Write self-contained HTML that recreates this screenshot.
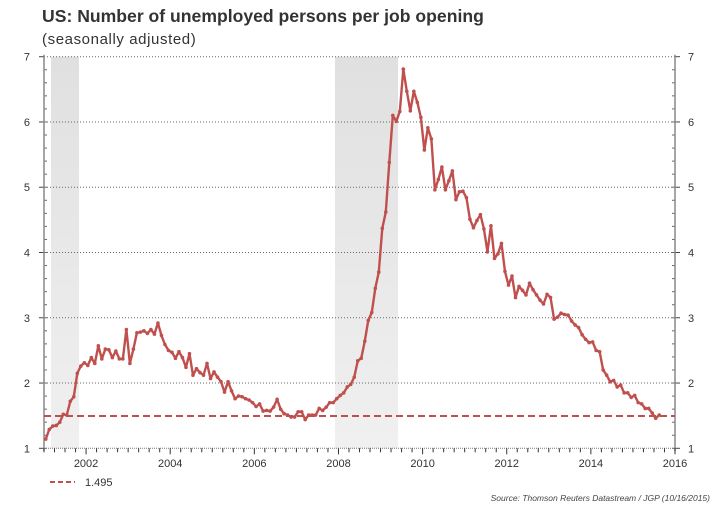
<!DOCTYPE html>
<html><head><meta charset="utf-8"><style>
body{margin:0;background:#fff;width:718px;height:506px;overflow:hidden;font-family:"Liberation Sans",sans-serif}
</style></head><body>
<svg id="chart" width="718" height="506" xmlns="http://www.w3.org/2000/svg">
<defs><linearGradient id="rg" x1="0" y1="0" x2="0" y2="1"><stop offset="0" stop-color="#e0e0e0"/><stop offset="1" stop-color="#f0f0f0"/></linearGradient></defs>
<text x="42" y="22" font-size="17.6" font-weight="bold" fill="#333">US: Number of unemployed persons per job opening</text>
<text x="42" y="44" font-size="15" letter-spacing="0.6" fill="#333">(seasonally adjusted)</text>
<g id="g"></g>
<text x="710" y="501" font-size="8.5" font-style="italic" fill="#444" text-anchor="end">Source: Thomson Reuters Datastream / JGP (10/16/2015)</text>
</svg>
<script>
const startYear = 2001;
const values = [1.14,1.29,1.34,1.35,1.40,1.52,1.51,1.72,1.79,2.15,2.26,2.31,2.27,2.39,2.30,2.57,2.37,2.52,2.51,2.39,2.49,2.37,2.37,2.82,2.30,2.52,2.77,2.78,2.80,2.76,2.82,2.75,2.92,2.73,2.59,2.50,2.47,2.38,2.48,2.39,2.24,2.45,2.12,2.22,2.16,2.12,2.30,2.07,2.17,2.09,2.02,1.86,2.02,1.88,1.76,1.80,1.79,1.76,1.74,1.70,
1.64,1.68,1.57,1.58,1.57,1.63,1.75,1.60,1.53,1.51,1.48,1.48,1.56,1.56,1.44,1.51,1.51,1.51,1.61,1.58,1.63,1.70,1.70,1.76,1.81,1.85,1.94,1.98,2.09,2.34,2.38,
2.64,2.96,3.08,3.45,3.70,4.37,4.62,5.38,6.10,6.01,6.16,6.81,6.47,6.17,6.47,6.30,6.07,5.57,5.91,5.74,4.96,5.12,5.31,4.96,5.10,5.25,4.81,4.93,4.94,4.84,4.51,4.38,
4.49,4.58,4.36,4.01,4.41,3.91,3.98,4.14,3.71,3.50,3.64,3.31,3.48,3.42,3.35,3.53,3.43,3.35,3.27,3.21,3.36,3.31,2.98,3.01,3.07,3.05,3.04,2.95,
2.89,2.85,2.74,2.67,2.62,2.63,2.50,2.48,2.20,2.12,2.02,2.04,1.94,1.97,1.85,1.85,1.78,1.81,1.70,1.68,1.61,1.61,1.54,1.46,1.51];
const refLevel = 1.495;
const yTicks = [1,2,3,4,5,6,7];
const xTickYears = [2002,2004,2006,2008,2010,2012,2014,2016];
const recessionStarts = [2001.167, 2007.917];
const recessionEnds = [2001.833, 2009.417];

const X0=44,X1=675,Y0=448.3,Y1=56.7;
const xs=y=>X0+(y-2001)/(2016-2001)*(X1-X0);
const ys=v=>Y0-(v-1)/(7-1)*(Y0-Y1);
const g=document.getElementById('g');
const NS='http://www.w3.org/2000/svg';
function mk(t,a){const e=document.createElementNS(NS,t);for(const k in a)e.setAttribute(k,a[k]);g.appendChild(e);return e;}

recessionStarts.forEach((s,i)=>{
  const r=mk('rect',{x:xs(s),y:Y1,width:xs(recessionEnds[i])-xs(s),height:Y0-Y1,fill:'url(#rg)'});
  
  
});
yTicks.forEach(v=>{
  if(v>1){const l=mk('line',{x1:X0,x2:X1,y1:ys(v),y2:ys(v),stroke:'#666','stroke-width':1,'stroke-dasharray':'1 2'});
  
  }
  const a=mk('text',{x:30,y:ys(v)+4,'font-size':11,fill:'#333','text-anchor':'end'});a.textContent=v;
  
  
  const b=mk('text',{x:688,y:ys(v)+4,'font-size':11,fill:'#333'});b.textContent=v;
  
  
  mk('line',{x1:X0-5,x2:X0,y1:ys(v),y2:ys(v),stroke:'#444'});
  mk('line',{x1:X1,x2:X1+5,y1:ys(v),y2:ys(v),stroke:'#444'});
});
for(let v=1;v<7;v+=0.2){mk('line',{x1:X0,x2:X0+3,y1:ys(v),y2:ys(v),stroke:'#666'});mk('line',{x1:X1-3,x2:X1,y1:ys(v),y2:ys(v),stroke:'#666'});}
mk('line',{x1:X0,x2:X1,y1:Y0,y2:Y0,stroke:'#777','stroke-dasharray':'1 1'});
mk('line',{x1:X0,x2:X0,y1:Y1-2,y2:Y0+3,stroke:'#888','stroke-width':1.5});
mk('line',{x1:X1,x2:X1,y1:Y1-2,y2:Y0+3,stroke:'#888','stroke-width':1.5});
for(let q=2001;q<=2016.01;q+=0.25){const big=Math.abs(q-Math.round(q))<0.01&&Math.round(q)%2==0;
  mk('line',{x1:xs(q),x2:xs(q),y1:Y0,y2:Y0+(big?6:4),stroke:'#333'});}
xTickYears.forEach(yr=>{const t=mk('text',{x:xs(yr),y:467,'font-size':11,fill:'#333','text-anchor':'middle'});t.textContent=yr;
  
  });

const ref=mk('line',{x1:X0,x2:X1,y1:ys(refLevel),y2:ys(refLevel),stroke:'#c0504d','stroke-width':2,'stroke-dasharray':'7 4'});



const pts=values.map((v,i)=>[xs(startYear+(i+0.5)/12),ys(v)]);
const p=mk('polyline',{points:pts.map(q=>q.join(',')).join(' '),fill:'none',stroke:'#c0504d','stroke-width':2.4,'stroke-linejoin':'round'});


pts.forEach(q=>{const c=mk('circle',{cx:q[0],cy:q[1],r:1.8,fill:'#c0504d'});
  
  });

const ll=mk('line',{x1:50,x2:75,y1:482,y2:482,stroke:'#c0504d','stroke-width':2,'stroke-dasharray':'5 3'});


const lt=mk('text',{x:85,y:486,'font-size':11,fill:'#333'});lt.textContent='1.495';


</script>
</body></html>
